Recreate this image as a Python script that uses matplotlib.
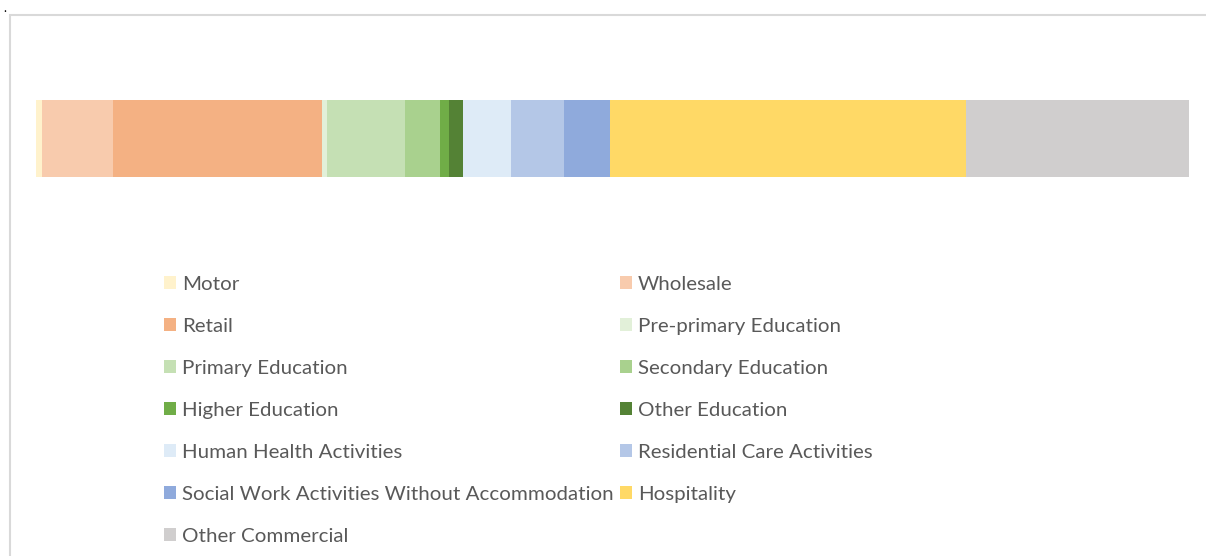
import matplotlib.pyplot as plt
from matplotlib.patches import Rectangle

# share of each sector (%)
sectors = ['Motor', 'Wholesale', 'Retail', 'Pre-primary Education',
           'Primary Education', 'Secondary Education', 'Higher Education',
           'Other Education', 'Human Health Activities',
           'Residential Care Activities',
           'Social Work Activities Without Accommodation', 'Hospitality',
           'Other Commercial']
shares = [0.52, 6.18, 18.10, 0.46, 6.74, 3.06, 0.75, 1.24, 4.16, 4.57, 3.96, 30.95, 19.31]
colors = ['#FFF2CC', '#F8CBAD', '#F4B183', '#E2F0D9', '#C5E0B4', '#A9D18E',
          '#70AD47', '#548235', '#DEEBF7', '#B4C7E7', '#8FAADC', '#FFD966',
          '#D0CECE']

W, H = 1206, 556
fig = plt.figure(figsize=(W / 100, H / 100), dpi=100)
plt.rcParams['font.family'] = ['Lato', 'DejaVu Sans']

# light grey chart frame (cut at right and bottom like the screenshot)
fig.patches.append(Rectangle((10 / W, -0.05), 1.1, 1 - 15 / H + 0.05,
                             transform=fig.transFigure, fill=False,
                             edgecolor='#D9D9D9', lw=1.5))
fig.text(3 / W, 1 - 8 / H, '.', fontsize=9, color='black', va='center')

ax = fig.add_axes([36 / W, 1 - 177 / H, 1153 / W, 77 / H])
left = 0
handles = []
for name, val, col in zip(sectors, shares, colors):
    b = ax.barh(0, val, left=left, height=1, color=col, label=name)
    handles.append(b)
    left += val
ax.set_xlim(0, sum(shares))
ax.set_ylim(-0.5, 0.5)
ax.axis('off')

# row-wise order for a 2-column legend
order = list(range(0, 13, 2)) + list(range(1, 13, 2))
fig.legend([handles[i] for i in order], [sectors[i] for i in order],
           ncol=2, loc='upper left', bbox_to_anchor=(164 / W, 1 - 276 / H),
           frameon=False, fontsize=14.75, labelcolor='#595959',
           handlelength=0.58, handleheight=0.58, handletextpad=0.3,
           columnspacing=0.3, labelspacing=1.22, borderpad=0,
           borderaxespad=0)

fig.savefig('out.png', dpi=100)
